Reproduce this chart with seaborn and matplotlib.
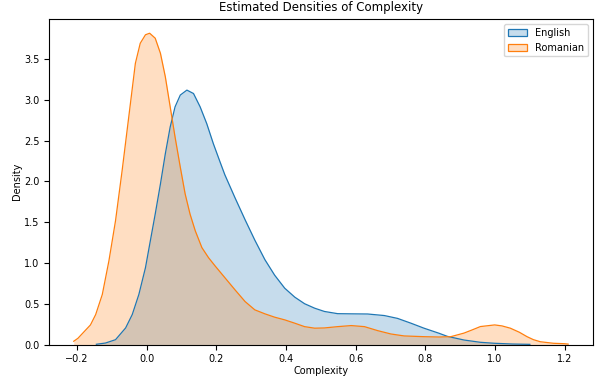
import matplotlib
matplotlib.use("Agg")
import matplotlib.pyplot as plt
from matplotlib.patches import Patch
import seaborn as sns

# density curves (complexity, density)
english_x = [-0.145, -0.119, -0.090, -0.061, -0.042, -0.023, -0.004, 0.010, 0.024, 0.039,
             0.053, 0.067, 0.081, 0.096, 0.115, 0.134, 0.153, 0.172, 0.191, 0.210,
             0.224, 0.253, 0.282, 0.310, 0.339, 0.367, 0.396, 0.425, 0.453, 0.482,
             0.510, 0.548, 0.587, 0.634, 0.682, 0.720, 0.758, 0.796, 0.839, 0.863,
             0.911, 0.958, 0.999, 1.05, 1.10]
english_y = [0.003, 0.018, 0.059, 0.203, 0.367, 0.613, 0.942, 1.271, 1.599, 1.968,
             2.337, 2.666, 2.913, 3.057, 3.118, 3.076, 2.913, 2.707, 2.461, 2.24,
             2.08, 1.80, 1.53, 1.28, 1.04, 0.85, 0.69, 0.58, 0.50, 0.445,
             0.405, 0.378, 0.376, 0.374, 0.355, 0.32, 0.262, 0.20, 0.138, 0.10,
             0.055, 0.027, 0.015, 0.006, 0.002]

romanian_x = [-0.210, -0.198, -0.162, -0.147, -0.128, -0.109, -0.090, -0.071, -0.052, -0.033,
              -0.019, -0.004, 0.008, 0.024, 0.039, 0.053, 0.067, 0.081, 0.096, 0.110,
              0.124, 0.139, 0.158, 0.177, 0.196, 0.220, 0.253, 0.282, 0.310, 0.339,
              0.367, 0.396, 0.425, 0.453, 0.482, 0.510, 0.548, 0.587, 0.625, 0.663,
              0.701, 0.739, 0.796, 0.839, 0.873, 0.911, 0.935, 0.958, 0.999, 1.020,
              1.044, 1.070, 1.092, 1.110, 1.130, 1.168, 1.199, 1.210]
romanian_y = [0.04, 0.076, 0.24, 0.367, 0.613, 1.025, 1.517, 2.133, 2.789, 3.446,
              3.692, 3.796, 3.815, 3.754, 3.569, 3.282, 2.913, 2.543, 2.174, 1.845,
              1.599, 1.394, 1.188, 1.065, 0.963, 0.840, 0.671, 0.527, 0.425, 0.376,
              0.335, 0.302, 0.261, 0.219, 0.200, 0.203, 0.219, 0.232, 0.219, 0.170,
              0.129, 0.105, 0.096, 0.092, 0.096, 0.14, 0.18, 0.22, 0.24, 0.228,
              0.20, 0.15, 0.096, 0.06, 0.034, 0.015, 0.01, 0.005]

languages = ["English", "Romanian"]


def plot_densities():
    plt.rcParams["font.size"] = 7
    fig = plt.figure(figsize=(5.95, 3.79), dpi=100)
    ax = fig.add_axes([0.0824, 0.091, 0.914, 0.859])
    colors = sns.color_palette("tab10", 2)
    curves = [(english_x, english_y), (romanian_x, romanian_y)]
    for (xs, ys), c in zip(curves, colors):
        ax.fill_between(xs, ys, color=c, alpha=0.25, linewidth=0)
        sns.lineplot(x=xs, y=ys, color=c, linewidth=0.9, ax=ax)
    handles = [Patch(facecolor=(*c, 0.25), edgecolor=c, linewidth=0.9) for c in colors]
    ax.legend(handles, languages, loc="upper right", fontsize=7)
    ax.set_ylim(0, 3.99)
    ax.set_title("Estimated Densities of Complexity", fontsize=8.5)
    ax.set_xlabel("Complexity", fontsize=7, labelpad=1)
    ax.set_ylabel("Density", fontsize=7, labelpad=1.5)
    fig.savefig("out.png", dpi=100)


if __name__ == "__main__":
    plot_densities()
